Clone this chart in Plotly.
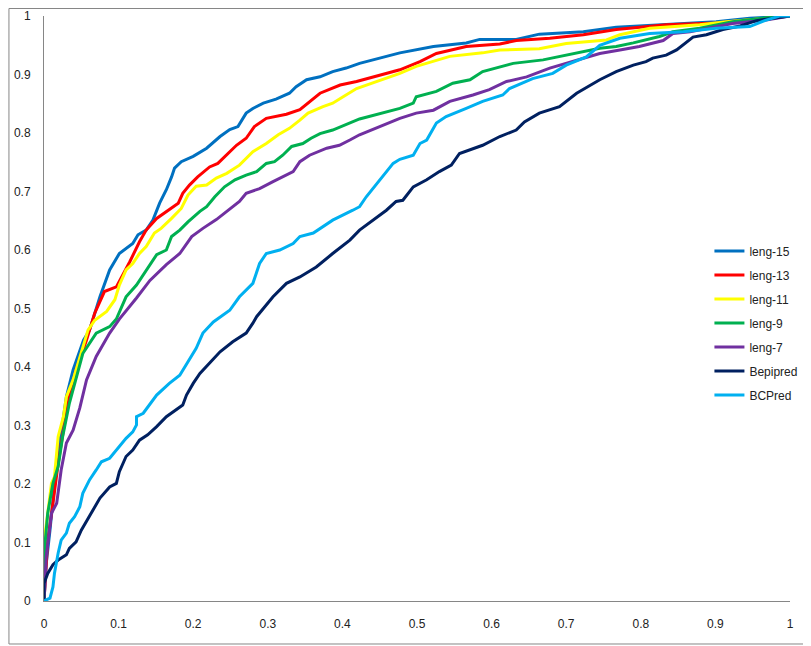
import plotly.graph_objects as go

# === DATA ===
leng15_x = [0, 0.003, 0.008, 0.012, 0.017, 0.023, 0.030, 0.039, 0.053, 0.061, 0.075, 0.088, 0.101, 0.119,
            0.126, 0.137, 0.146, 0.155, 0.164, 0.171, 0.175, 0.184, 0.200, 0.218, 0.236, 0.249, 0.260, 0.271,
            0.280, 0.294, 0.311, 0.329, 0.338, 0.352, 0.370, 0.387, 0.405, 0.423, 0.477, 0.522, 0.566, 0.584,
            0.633, 0.664, 0.723, 0.767, 0.834, 0.901, 0.946, 1.0]
leng15_y = [0, 0.064, 0.121, 0.178, 0.235, 0.287, 0.349, 0.395, 0.446, 0.463, 0.520, 0.566, 0.594, 0.611,
            0.626, 0.634, 0.651, 0.680, 0.703, 0.725, 0.740, 0.751, 0.760, 0.774, 0.794, 0.806, 0.811, 0.834,
            0.842, 0.851, 0.858, 0.868, 0.879, 0.891, 0.896, 0.905, 0.911, 0.919, 0.937, 0.948, 0.954, 0.960,
            0.960, 0.969, 0.973, 0.981, 0.985, 0.990, 0.996, 1.0]

leng13_x = [0, 0.005, 0.012, 0.019, 0.026, 0.034, 0.043, 0.057, 0.068, 0.081, 0.097, 0.115, 0.128, 0.137,
            0.151, 0.164, 0.180, 0.186, 0.195, 0.206, 0.222, 0.233, 0.247, 0.258, 0.271, 0.282, 0.298, 0.325,
            0.343, 0.356, 0.370, 0.397, 0.419, 0.477, 0.504, 0.526, 0.566, 0.611, 0.633, 0.678, 0.723, 0.767,
            0.834, 0.901, 0.946, 1.0]
leng13_y = [0, 0.104, 0.167, 0.235, 0.292, 0.349, 0.395, 0.446, 0.492, 0.529, 0.537, 0.580, 0.614, 0.634,
            0.654, 0.666, 0.680, 0.697, 0.711, 0.725, 0.742, 0.748, 0.765, 0.779, 0.791, 0.811, 0.825, 0.832,
            0.840, 0.853, 0.868, 0.882, 0.888, 0.908, 0.922, 0.936, 0.948, 0.952, 0.958, 0.962, 0.968, 0.977,
            0.985, 0.988, 0.994, 1.0]

leng11_x = [0, 0.001, 0.005, 0.010, 0.014, 0.019, 0.026, 0.030, 0.039, 0.050, 0.059, 0.068, 0.084, 0.095,
            0.101, 0.110, 0.119, 0.128, 0.137, 0.148, 0.157, 0.171, 0.184, 0.193, 0.204, 0.218, 0.231, 0.245,
            0.262, 0.280, 0.298, 0.314, 0.329, 0.343, 0.354, 0.374, 0.387, 0.401, 0.419, 0.477, 0.499, 0.544,
            0.588, 0.611, 0.664, 0.700, 0.754, 0.772, 0.812, 0.879, 0.915, 0.968, 1.0]
leng11_y = [0, 0.110, 0.150, 0.201, 0.212, 0.281, 0.315, 0.349, 0.378, 0.423, 0.463, 0.480, 0.495, 0.515,
            0.540, 0.566, 0.577, 0.594, 0.606, 0.629, 0.637, 0.654, 0.671, 0.694, 0.709, 0.711, 0.723, 0.731,
            0.745, 0.768, 0.782, 0.797, 0.808, 0.822, 0.834, 0.845, 0.851, 0.862, 0.876, 0.902, 0.914, 0.931,
            0.937, 0.942, 0.944, 0.953, 0.959, 0.968, 0.979, 0.985, 0.990, 0.996, 1.0]

leng9_x = [0, 0.001, 0.005, 0.012, 0.019, 0.025, 0.034, 0.043, 0.052, 0.070, 0.088, 0.097, 0.110, 0.124,
           0.137, 0.151, 0.164, 0.171, 0.182, 0.193, 0.209, 0.218, 0.229, 0.242, 0.256, 0.271, 0.285, 0.298,
           0.309, 0.320, 0.332, 0.347, 0.358, 0.370, 0.387, 0.405, 0.423, 0.477, 0.495, 0.499, 0.526, 0.548,
           0.571, 0.588, 0.629, 0.669, 0.709, 0.745, 0.767, 0.790, 0.825, 0.843, 0.879, 0.923, 0.968, 1.0]
leng9_y = [0, 0.093, 0.150, 0.201, 0.230, 0.281, 0.338, 0.383, 0.423, 0.458, 0.469, 0.482, 0.520, 0.540,
           0.566, 0.592, 0.600, 0.623, 0.634, 0.648, 0.666, 0.674, 0.691, 0.708, 0.720, 0.728, 0.734, 0.748,
           0.751, 0.762, 0.777, 0.782, 0.791, 0.799, 0.805, 0.814, 0.824, 0.842, 0.851, 0.862, 0.871, 0.885,
           0.891, 0.905, 0.919, 0.925, 0.936, 0.945, 0.948, 0.954, 0.965, 0.973, 0.979, 0.990, 0.997, 1.0]

leng7_x = [0, 0.003, 0.010, 0.017, 0.023, 0.030, 0.039, 0.048, 0.057, 0.070, 0.088, 0.101, 0.124, 0.142,
           0.164, 0.182, 0.198, 0.213, 0.231, 0.245, 0.262, 0.271, 0.289, 0.307, 0.334, 0.343, 0.356, 0.379,
           0.396, 0.410, 0.423, 0.477, 0.499, 0.522, 0.544, 0.575, 0.597, 0.620, 0.647, 0.678, 0.709, 0.745,
           0.772, 0.798, 0.830, 0.843, 0.866, 0.923, 0.968, 1.0]
leng7_y = [0, 0.076, 0.150, 0.167, 0.224, 0.270, 0.292, 0.330, 0.378, 0.418, 0.458, 0.482, 0.518, 0.548,
           0.575, 0.594, 0.623, 0.637, 0.652, 0.666, 0.683, 0.697, 0.705, 0.717, 0.734, 0.751, 0.762, 0.774,
           0.779, 0.788, 0.797, 0.825, 0.834, 0.839, 0.854, 0.865, 0.874, 0.888, 0.896, 0.911, 0.922, 0.936,
           0.942, 0.948, 0.958, 0.970, 0.973, 0.987, 0.993, 1.0]

bepipred_x = [0, 0, 0.005, 0.012, 0.019, 0.030, 0.034, 0.043, 0.050, 0.057, 0.064, 0.075, 0.088, 0.097,
              0.101, 0.110, 0.119, 0.128, 0.139, 0.151, 0.164, 0.186, 0.191, 0.200, 0.209, 0.222, 0.236, 0.253,
              0.271, 0.280, 0.285, 0.307, 0.325, 0.343, 0.365, 0.387, 0.410, 0.423, 0.441, 0.459, 0.472, 0.481,
              0.495, 0.513, 0.530, 0.546, 0.557, 0.588, 0.611, 0.633, 0.644, 0.664, 0.691, 0.714, 0.745, 0.767,
              0.790, 0.807, 0.816, 0.834, 0.848, 0.870, 0.888, 0.910, 0.933, 0.955, 0.977, 1.0]
bepipred_y = [0, 0.030, 0.047, 0.062, 0.070, 0.079, 0.090, 0.101, 0.121, 0.136, 0.150, 0.176, 0.195, 0.201,
              0.221, 0.247, 0.258, 0.275, 0.284, 0.298, 0.315, 0.335, 0.352, 0.372, 0.389, 0.406, 0.426, 0.443,
              0.458, 0.475, 0.486, 0.520, 0.543, 0.554, 0.571, 0.594, 0.617, 0.634, 0.651, 0.668, 0.683, 0.685,
              0.708, 0.720, 0.734, 0.745, 0.765, 0.779, 0.794, 0.805, 0.819, 0.834, 0.845, 0.868, 0.891, 0.905,
              0.916, 0.922, 0.928, 0.933, 0.942, 0.964, 0.968, 0.977, 0.983, 0.992, 0.996, 1.0]

bcpred_x = [0, 0.008, 0.012, 0.014, 0.019, 0.023, 0.030, 0.034, 0.041, 0.048, 0.052, 0.061, 0.070, 0.077,
            0.088, 0.097, 0.110, 0.119, 0.124, 0.124, 0.133, 0.151, 0.168, 0.182, 0.195, 0.204, 0.213, 0.227,
            0.249, 0.262, 0.280, 0.289, 0.298, 0.316, 0.334, 0.343, 0.361, 0.387, 0.414, 0.423, 0.432, 0.450,
            0.468, 0.477, 0.495, 0.504, 0.513, 0.526, 0.539, 0.566, 0.588, 0.615, 0.624, 0.655, 0.682, 0.700,
            0.727, 0.745, 0.772, 0.812, 0.857, 0.901, 0.946, 0.968, 0.986, 1.0]
bcpred_y = [0, 0.005, 0.024, 0.047, 0.082, 0.104, 0.116, 0.133, 0.144, 0.161, 0.184, 0.207, 0.224, 0.238,
            0.244, 0.258, 0.278, 0.289, 0.301, 0.315, 0.321, 0.352, 0.372, 0.386, 0.412, 0.432, 0.458, 0.477,
            0.497, 0.520, 0.543, 0.577, 0.594, 0.600, 0.611, 0.623, 0.629, 0.651, 0.668, 0.674, 0.691, 0.720,
            0.748, 0.755, 0.762, 0.782, 0.788, 0.817, 0.828, 0.842, 0.854, 0.865, 0.876, 0.893, 0.902, 0.916,
            0.930, 0.950, 0.962, 0.970, 0.973, 0.979, 0.982, 0.993, 1.0, 1.0]

SERIES = [
    ("leng-15", leng15_x, leng15_y, "#0070C0"),
    ("leng-13", leng13_x, leng13_y, "#FF0000"),
    ("leng-11", leng11_x, leng11_y, "#FFFF00"),
    ("leng-9", leng9_x, leng9_y, "#00B050"),
    ("leng-7", leng7_x, leng7_y, "#7030A0"),
    ("Bepipred", bepipred_x, bepipred_y, "#002060"),
    ("BCPred", bcpred_x, bcpred_y, "#00B0F0"),
]

FONT = "Liberation Sans"
AXIS_GRAY = "#868686"

fig = go.Figure()
for name, xs, ys, color in SERIES:
    fig.add_trace(go.Scatter(x=xs, y=ys, name=name, mode="lines", legendgroup=name,
                             line=dict(color=color, width=3)))

axis_common = dict(range=[0, 1], dtick=0.1, showgrid=False, zeroline=False, automargin=False,
                   showline=True, linecolor=AXIS_GRAY, linewidth=1, ticks="",
                   tickfont=dict(family=FONT, size=12, color="#222222"))

# page body adds an 8px offset, so margins are trimmed to land the plot area in place
fig.update_layout(
    width=811, height=646,
    margin=dict(l=36, r=29, t=8, b=53, autoexpand=False),
    paper_bgcolor="white", plot_bgcolor="white",
    font=dict(family=FONT, size=12, color="#222222"),
    xaxis=dict(**axis_common, ticklabelstandoff=12),
    yaxis=dict(**axis_common, ticklabelstandoff=10),
    legend=dict(x=0.892, y=0.623, xanchor="left", yanchor="top", bgcolor="rgba(0,0,0,0)",
                tracegroupgap=5, itemwidth=30, font=dict(family=FONT, size=12, color="#222222")),
    shapes=[dict(type="rect", xref="paper", yref="paper", x0=-0.047, x1=1.0255, y0=-0.0735, y1=1.0128,
                 line=dict(color=AXIS_GRAY, width=1), fillcolor="rgba(0,0,0,0)")],
)

fig.write_html("out.html")
